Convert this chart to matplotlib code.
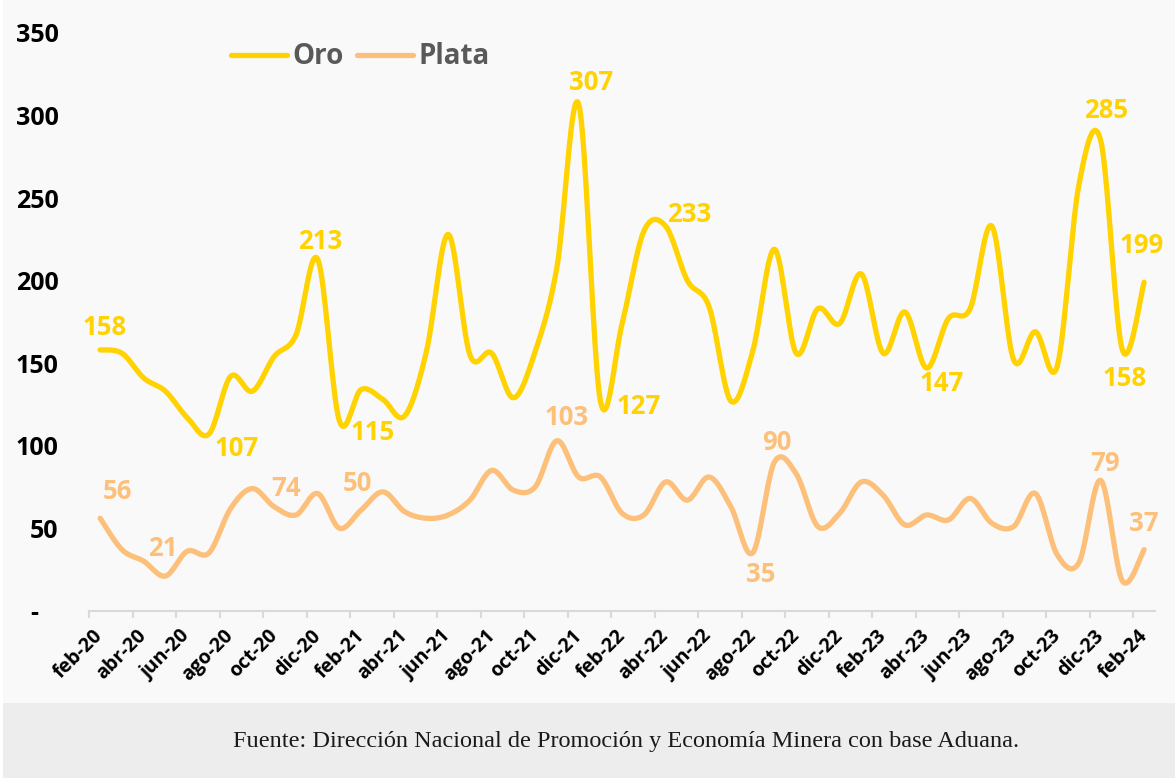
import numpy as np
import matplotlib.pyplot as plt
from matplotlib.patches import Rectangle

# monthly series feb-20 .. feb-24
years = ["20", "21", "22", "23", "24"]
month_names = ["ene", "feb", "mar", "abr", "may", "jun", "jul", "ago", "sep", "oct", "nov", "dic"]
months = [f"{m}-{y}" for y in years for m in month_names][1:50]

oro = [158, 156, 141, 133, 117, 107, 142, 133, 154, 167,
       213, 115, 134, 128, 118, 157, 228, 155, 156, 129,
       157, 208, 307, 127, 174, 230, 233, 200, 184, 127,
       157, 219, 156, 183, 174, 204, 156, 181, 147, 177,
       183, 233, 152, 169, 148, 258, 285, 158, 199]

plata = [56, 37, 30, 21, 36, 35, 62, 74, 63, 58,
         71, 50, 61, 72, 60, 56, 58, 67, 85, 73,
         75, 103, 81, 81, 59, 58, 78, 67, 81, 63,
         35, 90, 83, 51, 59, 78, 70, 52, 58, 55,
         68, 53, 51, 71, 34, 29, 79, 18, 37]

# labelled points: index -> (dx, dy) offset in pixels
oro_labels = {0: (4, 22), 5: (28, -14), 10: (3, 18), 11: (33, -12), 22: (12, 21),
              23: (38, -5), 26: (24, 12), 38: (15, -15), 46: (5, 30), 47: (2, -29),
              48: (-2, 37)}
plata_labels = {0: (17, 27), 3: (-3, 28), 7: (34, 0), 11: (18, 45), 21: (10, 23),
                30: (8, -22), 31: (2, 20), 46: (4, 17), 48: (0, 26)}

ORO_COLOR = "#FFD200"
PLATA_COLOR = "#FDC07A"
FONT = ["Open Sans", "DejaVu Sans"]


def smooth(values, steps=20):
    """Excel-like smoothed line: cubic bezier through every point"""
    y = np.asarray(values, dtype=float)
    x = np.arange(len(y), dtype=float)
    pts = np.column_stack([x, y])
    n = len(pts)
    out = []
    t = np.linspace(0, 1, steps, endpoint=False)[:, None]
    for i in range(n - 1):
        p0 = pts[max(i - 1, 0)]
        p1 = pts[i]
        p2 = pts[i + 1]
        p3 = pts[min(i + 2, n - 1)]
        c1 = p1 + (p2 - p0) / 6
        c2 = p2 - (p3 - p1) / 6
        seg = ((1 - t) ** 3) * p1 + 3 * ((1 - t) ** 2) * t * c1 + 3 * (1 - t) * t ** 2 * c2 + t ** 3 * p2
        out.append(seg)
    out.append(pts[-1][None, :])
    out = np.vstack(out)
    return out[:, 0], out[:, 1]


plt.rcParams['font.family'] = FONT

fig = plt.figure(figsize=(11.75, 7.78), dpi=100)
fig.patch.set_facecolor("white")
# chart panel and footer band
fig.patches.append(Rectangle((3 / 1175, 75 / 778), 1, 1, transform=fig.transFigure,
                             facecolor="#F9F9F9", edgecolor="none", zorder=-2))
fig.patches.append(Rectangle((3 / 1175, 0), 1, 75 / 778, transform=fig.transFigure,
                             facecolor="#EDEDED", edgecolor="none", zorder=-1))

ax = fig.add_axes([89.3 / 1175, (778 - 610.7) / 778, (1155 - 89.3) / 1175, (610.7 - 33) / 778])
ax.set_facecolor("none")

xs, ys = smooth(oro)
ax.plot(xs, ys, color=ORO_COLOR, lw=3.8, solid_capstyle="round", label="Oro")
xs, ys = smooth(plata)
ax.plot(xs, ys, color=PLATA_COLOR, lw=3.8, solid_capstyle="round", label="Plata")

for series, labels, color in [(oro, oro_labels, ORO_COLOR), (plata, plata_labels, PLATA_COLOR)]:
    for i, (dx, dy) in labels.items():
        ax.annotate(str(series[i]), (i, series[i]), xytext=(dx, dy), textcoords="offset pixels",
                    ha="center", va="center", color=color, fontsize=18.5, fontweight="bold")

ax.set_xlim(-0.5, len(months) - 0.5)
ax.set_ylim(0, 350)

# ticks between categories, labels on every second category
ax.set_xticks(np.arange(-0.5, len(months), 2))
ax.set_xticklabels([])
ax.tick_params(axis="x", which="major", length=5, width=1.5, color="#D9D9D9")
ax.set_xticks(np.arange(0, len(months), 2), minor=True)
ax.set_xticklabels(months[::2], minor=True, rotation=45, ha="right", va="center",
                   rotation_mode="anchor", fontsize=14, fontweight="bold")
ax.tick_params(axis="x", which="minor", length=0, pad=16)

yticks = np.arange(0, 351, 50)
ax.set_yticks(yticks)
ax.set_yticklabels(["-   "] + [str(v) for v in yticks[1:]], fontsize=18, fontweight="bold")
ax.tick_params(axis="y", length=0, pad=22)

for side in ["top", "right", "left"]:
    ax.spines[side].set_visible(False)
ax.spines["bottom"].set_color("#D9D9D9")
ax.spines["bottom"].set_linewidth(1.5)

leg = ax.legend(loc="center left", bbox_to_anchor=(231 / 1175, (778 - 57) / 778),
                bbox_transform=fig.transFigure, ncol=2, frameon=False, fontsize=20,
                handlelength=2.0, handletextpad=0.2, columnspacing=0.5,
                borderpad=0, borderaxespad=0)
for text in leg.get_texts():
    text.set_color("#595959")
    text.set_fontweight("bold")

fig.text(626 / 1175, 37 / 778,
         "Fuente: Dirección Nacional de Promoción y Economía Minera con base Aduana.",
         ha="center", va="center", fontsize=17.5, family=["Liberation Serif", "DejaVu Serif"],
         color="#1a1a1a")

fig.savefig("out.png", dpi=100)
